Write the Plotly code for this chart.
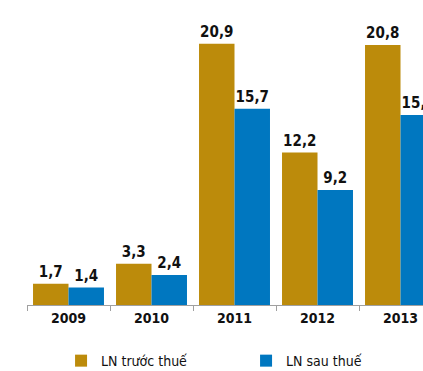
import plotly.graph_objects as go

years = ["2009", "2010", "2011", "2012", "2013"]
truoc_thue = [1.7, 3.3, 20.9, 12.2, 20.8]
sau_thue = [1.4, 2.4, 15.7, 9.2, 15.2]
series_names = ["LN trước thuế", "LN sau thuế"]
colors = ["#BC8B0B", "#0077C0"]

FONT = "DejaVu Sans Condensed, sans-serif"

fig = go.Figure()
for name, vals, col in zip(series_names, [truoc_thue, sau_thue], colors):
    fig.add_trace(go.Bar(
        x=years, y=vals, name=name,
        marker=dict(color=col, line=dict(width=0)),
        texttemplate="%{y:.1f}", textposition="outside",
        textfont=dict(family=FONT, size=15, color="#111111", weight="bold"),
        cliponaxis=False, hoverinfo="skip",
    ))

fig.update_layout(
    width=423, height=371,
    margin=dict(l=27, r=0, t=10, b=66, autoexpand=False),
    paper_bgcolor="white", plot_bgcolor="white",
    barmode="group", bargap=0.145, bargroupgap=0,
    separators=",.",
    showlegend=True,
    legend=dict(orientation="h", x=0.086, xanchor="left", y=-0.19, yanchor="middle",
                font=dict(family=FONT, size=14, color="#111111"),
                entrywidth=140, entrywidthmode="pixels",
                traceorder="normal", itemclick=False),
    xaxis=dict(type="category", range=[-0.5, 4.271], automargin=False,
               showline=True, linecolor="#A0A0A0", linewidth=1,
               ticks="outside", ticklen=5, tickcolor="#A0A0A0",
               tickson="boundaries", showgrid=False,
               tickfont=dict(family=FONT, size=14, color="#111111", weight="bold")),
    yaxis=dict(range=[0, 23.6], visible=False, showgrid=False, zeroline=False,
               automargin=False),
)

fig.write_html("out.html", config={"displayModeBar": False},
               post_script="document.body.style.margin='0';document.body.style.overflow='hidden';")
